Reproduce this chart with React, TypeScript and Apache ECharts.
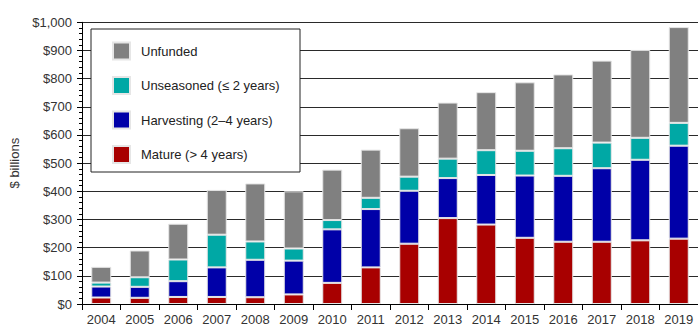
import React, { useEffect, useRef } from "react";
import * as echarts from "echarts";

const years = ["2004","2005","2006","2007","2008","2009","2010","2011","2012","2013","2014","2015","2016","2017","2018","2019"];
const mature =      [23, 22, 25, 25, 24, 34, 75, 130, 214, 305, 282, 235, 221, 221, 226, 232];
const harvesting =  [39, 39, 56, 105, 133, 120, 190, 207, 188, 142, 176, 221, 234, 261, 286, 330];
const unseasoned =  [14, 34, 77, 116, 65, 43, 33, 40, 50, 69, 88, 88, 98, 91, 78, 81];
const unfunded =    [56, 95, 127, 159, 206, 203, 179, 171, 172, 199, 206, 243, 262, 291, 312, 340];
const yTicks = [0, 100, 200, 300, 400, 500, 600, 700, 800, 900, 1000];

const FONT = "'Liberation Sans', Arial, Helvetica, sans-serif";

export default function App() {
  const ref = useRef<HTMLDivElement>(null);
  useEffect(() => {
    if (!ref.current) return;
    const chart = echarts.init(ref.current, undefined, { renderer: "svg" });
    const mk = (name: string, data: number[], color: string) => ({
      name,
      type: "bar",
      stack: "total",
      data,
      barWidth: 20,
      itemStyle: { color, borderColor: "#e6e6e6", borderWidth: 1 },
      z: 2,
    });
    chart.setOption({
      animation: false,
      textStyle: { fontFamily: FONT },
      grid: { left: 82, right: -4, top: 22.3, bottom: 21.7, containLabel: false },
      graphic: [
        {
          type: "rect",
          z: 5,
          shape: { x: 91, y: 29, width: 209, height: 143 },
          style: { fill: "#ffffff", stroke: "#222", lineWidth: 1 },
        },
      ],
      legend: {
        orient: "vertical",
        left: 112,
        top: 41,
        padding: 0,
        itemWidth: 17,
        itemHeight: 17,
        itemGap: 14.5,
        icon: "rect",
        z: 10,
        data: ["Unfunded", "Unseasoned (≤ 2 years)", "Harvesting (2–4 years)", "Mature (> 4 years)"],
        textStyle: { fontFamily: FONT, fontSize: 13, lineHeight: 13, color: "#222", padding: [0, 0, 7, 6] },
      },
      xAxis: {
        type: "category",
        data: years,
        axisLine: { lineStyle: { color: "#000", width: 1 } },
        axisTick: { show: true, length: 6, lineStyle: { color: "#000" } },
        axisLabel: { fontFamily: FONT, fontSize: 13, color: "#333", margin: 9 },
      },
      yAxis: {
        type: "value",
        min: yTicks[0],
        max: yTicks[yTicks.length - 1],
        interval: 100,
        name: "$ billions",
        nameLocation: "middle",
        nameGap: 56,
        nameTextStyle: { fontFamily: FONT, fontSize: 13, color: "#333" },
        axisLine: { show: true, lineStyle: { color: "#000", width: 1 } },
        axisTick: { show: true, length: 5, lineStyle: { color: "#000" } },
        minorTick: { show: true, splitNumber: 5, length: 3, lineStyle: { color: "#000" } },
        axisLabel: {
          fontFamily: FONT,
          fontSize: 13,
          color: "#333",
          margin: 10,
          formatter: (v: number) => "$" + v.toLocaleString("en-US"),
        },
        splitLine: { show: true, lineStyle: { color: "#2a2a2a", width: 1.2 } },
      },
      series: [
        mk("Mature (> 4 years)", mature, "#a80000"),
        mk("Harvesting (2–4 years)", harvesting, "#0000a8"),
        mk("Unseasoned (≤ 2 years)", unseasoned, "#00a8a5"),
        mk("Unfunded", unfunded, "#808080"),
      ],
    });
    return () => chart.dispose();
  }, []);
  return <div ref={ref} style={{ width: 698, height: 326, position: "absolute", left: 0, top: 0 }} />;
}
